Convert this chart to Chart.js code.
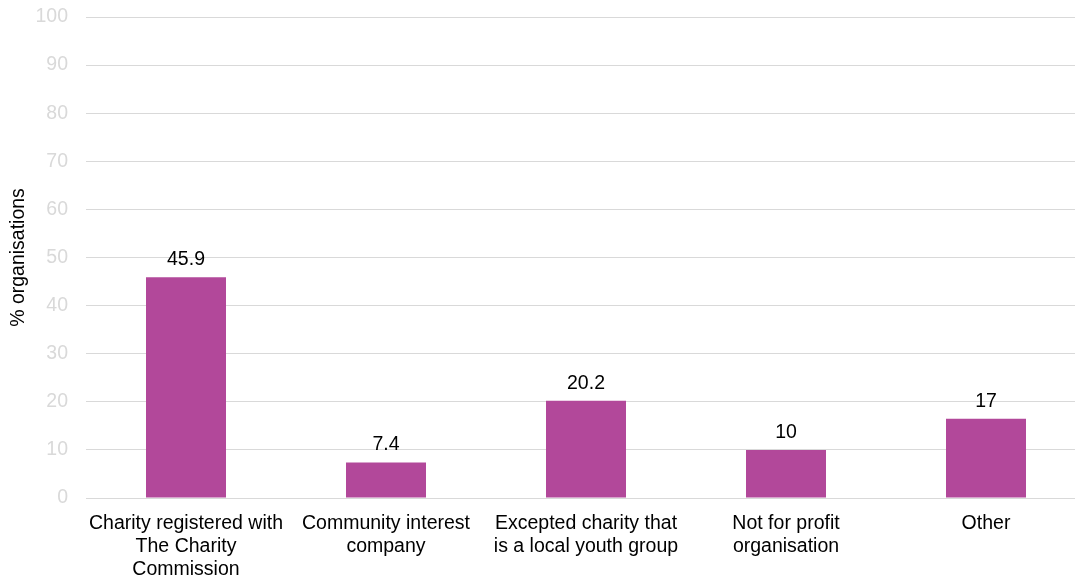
<!DOCTYPE html>
<html>
<head>
<meta charset="utf-8">
<script src="https://cdn.jsdelivr.net/npm/chart.js@4/dist/chart.umd.min.js"></script>
<style>
  html, body { margin: 0; padding: 0; background: #fff; overflow: hidden; }
  #wrap { width: 1086px; height: 576px; }
</style>
</head>
<body>
<div id="wrap"><canvas id="c"></canvas></div>
<script>
// categories (multi-line, as on the axis)
const categories = [
  ["Charity registered with", "The Charity", "Commission"],
  ["Community interest", "company"],
  ["Excepted charity that", "is a local youth group"],
  ["Not for profit", "organisation"],
  ["Other"]
];
// % organisations
const values = [45.9, 7.4, 20.2, 10, 16.5];
const valueLabels = ["45.9", "7.4", "20.2", "10", "17"];
const yTicks = [0, 10, 20, 30, 40, 50, 60, 70, 80, 90, 100];

const FONT = "'Liberation Sans', Arial, sans-serif";
const FS = 19.5;
const BAR = "#b2489a";
const GRID = "#d9d9d9";

// value labels above each bar
const barLabels = {
  id: "barLabels",
  afterDatasetsDraw(chart) {
    const { ctx } = chart;
    const meta = chart.getDatasetMeta(0);
    ctx.save();
    ctx.font = FS + "px " + FONT;
    ctx.fillStyle = "#000";
    ctx.textAlign = "center";
    ctx.textBaseline = "alphabetic";
    meta.data.forEach((bar, i) => {
      ctx.fillText(valueLabels[i], bar.x, bar.y - 12);
    });
    ctx.restore();
  }
};

new Chart(document.getElementById("c"), {
  type: "bar",
  data: {
    labels: categories,
    datasets: [{
      data: values,
      backgroundColor: BAR,
      barPercentage: 0.4,
      categoryPercentage: 1
    }]
  },
  options: {
    responsive: true,
    maintainAspectRatio: false,
    animation: false,
    layout: { padding: { top: 17, left: 0, right: 0, bottom: 0 } },
    plugins: { legend: { display: false }, tooltip: { enabled: false } },
    scales: {
      x: {
        grid: { display: false, drawTicks: false },
        border: { display: false },
        ticks: {
          color: "#000",
          font: { family: FONT, size: FS, lineHeight: 1.18 },
          padding: 14,
          maxRotation: 0,
          autoSkip: false
        },
        afterFit(scale) { scale.height = 78; }
      },
      y: {
        min: 0, max: 100,
        afterBuildTicks(scale) { scale.ticks = yTicks.map(v => ({ value: v })); },
        grid: { color: GRID, lineWidth: 1, drawTicks: false },
        border: { display: false },
        ticks: {
          color: "#d9d9d9",
          font: { family: FONT, size: FS },
          padding: 18
        },
        title: {
          display: true,
          text: "% organisations",
          color: "#000",
          font: { family: FONT, size: FS },
          padding: { top: 7, bottom: 0 }
        },
        afterFit(scale) {
          scale.width = 86;
          scale.paddingTop = 0;
          scale.paddingBottom = 0;
        }
      }
    }
  },
  plugins: [barLabels]
});
</script>
</body>
</html>
